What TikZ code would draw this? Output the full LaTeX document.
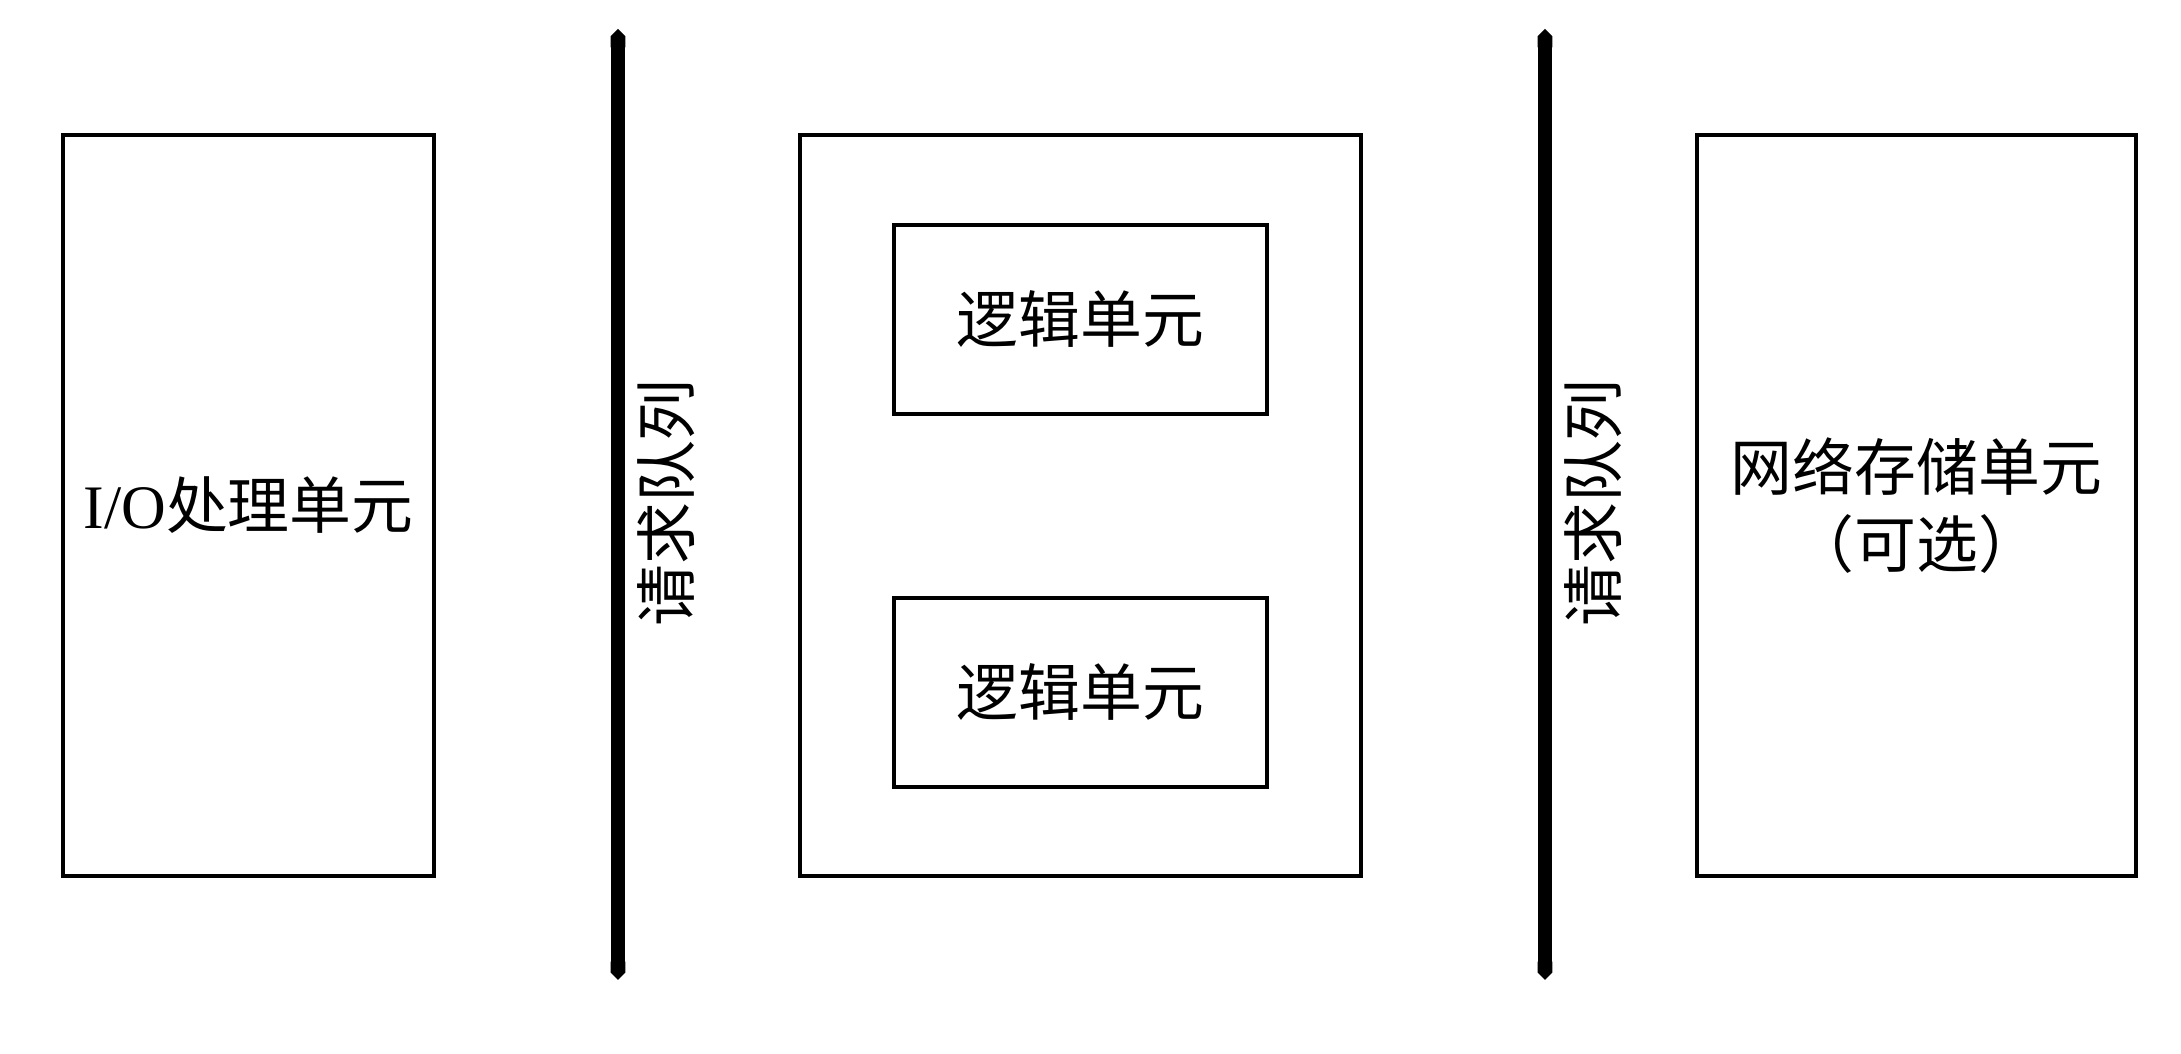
\documentclass[tikz,border=0pt]{standalone}
\usepackage{fontspec}
\setmainfont{Liberation Serif}
\newfontfamily\cjk{Noto Sans CJK SC}
\usepackage{tikz}
\usetikzlibrary{arrows.meta}

\begin{document}
\begin{tikzpicture}[
	unit/.style = {draw, line width=1.1pt, inner sep=0pt, align=center,
		font=\fontsize{17.6}{22}\selectfont},
	queue/.style = {line width=4.2pt, {Triangle Cap[]}-{Triangle Cap[]}},
	qlabel/.style = {rotate=90, inner sep=0pt, font=\fontsize{17.6}{22}\selectfont\cjk}]
	%\draw[help lines] (0,0) grid (22,11);
	\useasboundingbox (0,0) rectangle (21.81,10.54);
	
	% left unit
	\node[unit, minimum width=3.71cm, minimum height=7.41cm] (io) at (2.485,5.485) {I/O{\cjk 处理单元}};
	
	% queues
	\coordinate (q1top) at (6.18,10.25);
	\coordinate (q1bot) at (6.18,0.74);
	\coordinate (q2top) at (15.45,10.25);
	\coordinate (q2bot) at (15.45,0.74);
	\draw[queue] (q1top) -- (q1bot);
	\draw[queue] (q2top) -- (q2bot);
	\node[qlabel] (q1) at (6.66,5.51) {请求队列};
	\node[qlabel] (q2) at (15.93,5.51) {请求队列};
	
	% logic units
	\node[unit, minimum width=5.61cm, minimum height=7.41cm] (logic) at (10.805,5.485) {};
	\node[unit, minimum width=3.73cm, minimum height=1.89cm] (logicA) at (10.805,7.345) {\cjk 逻辑单元};
	\node[unit, minimum width=3.73cm, minimum height=1.89cm] (logicB) at (10.805,3.615) {\cjk 逻辑单元};
	
	% storage unit
	\node[unit, minimum width=4.39cm, minimum height=7.41cm] (store) at (19.165,5.485) {\cjk 网络存储单元\\\cjk （可选）};
\end{tikzpicture}
\end{document}
